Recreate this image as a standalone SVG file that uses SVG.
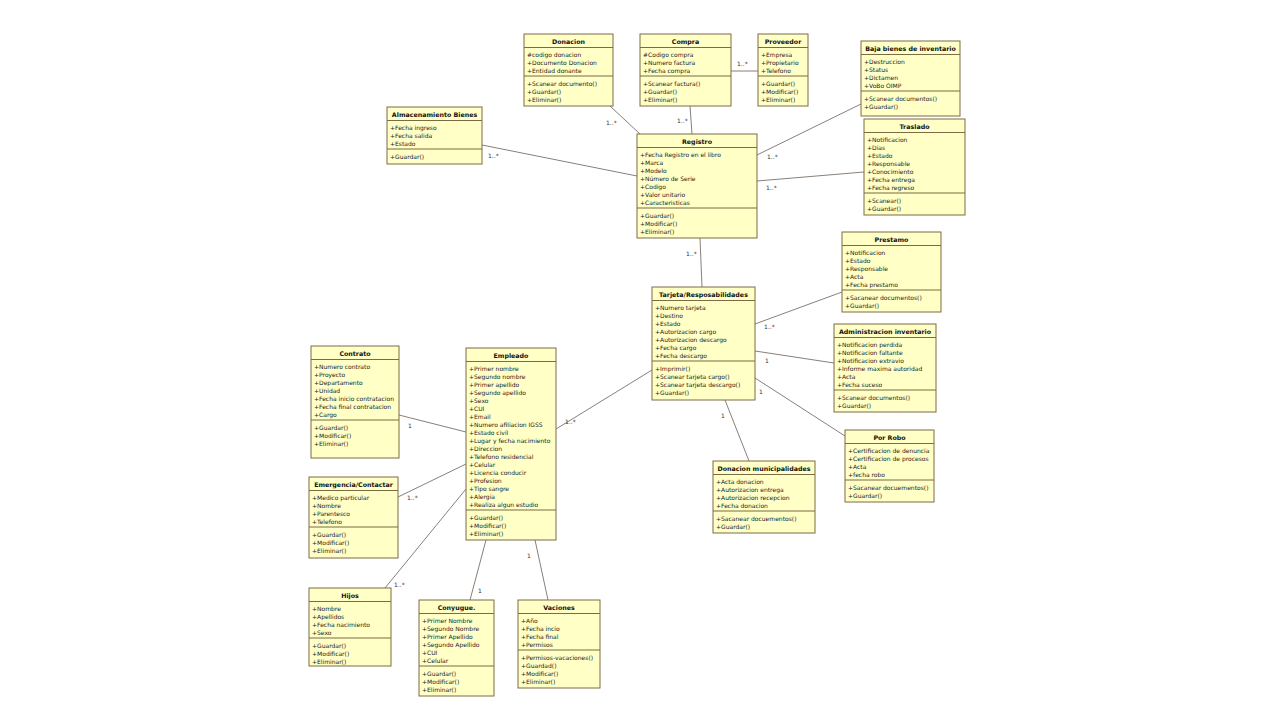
<svg xmlns="http://www.w3.org/2000/svg" width="1280" height="720" viewBox="0 0 1280 720">
<style>
.box{fill:#ffffc6;stroke:#7d6b45;stroke-width:1}
.sep{stroke:#7d6b45;stroke-width:1}
.t{font-family:"DejaVu Sans","Liberation Sans",sans-serif;font-size:6px;fill:#222}
.h{font-family:"DejaVu Sans","Liberation Sans",sans-serif;font-size:6.3px;font-weight:bold;fill:#111;text-anchor:middle}
.c{stroke:#8a7f78;stroke-width:1;fill:none}
.l{font-family:"DejaVu Sans","Liberation Sans",sans-serif;font-size:6px;fill:#333}
</style>
<rect width="1280" height="720" fill="#ffffff"/>
<g id="connectors">
<line class="c" x1="610" y1="106" x2="640" y2="134"/>
<line class="c" x1="690" y1="106" x2="692" y2="134"/>
<line class="c" x1="731" y1="71" x2="758" y2="71"/>
<line class="c" x1="482" y1="145" x2="637" y2="176"/>
<line class="c" x1="757" y1="155" x2="861" y2="104"/>
<line class="c" x1="757" y1="181" x2="864" y2="172"/>
<line class="c" x1="700" y1="238" x2="702" y2="287"/>
<line class="c" x1="755" y1="324" x2="842" y2="292"/>
<line class="c" x1="755" y1="351" x2="834" y2="363"/>
<line class="c" x1="755" y1="378" x2="845" y2="436"/>
<line class="c" x1="725" y1="400" x2="749" y2="461"/>
<line class="c" x1="652" y1="370" x2="556" y2="429"/>
<line class="c" x1="399" y1="415" x2="466" y2="432"/>
<line class="c" x1="398" y1="497" x2="466" y2="464"/>
<line class="c" x1="385" y1="588" x2="466" y2="489"/>
<line class="c" x1="470" y1="600" x2="486" y2="540"/>
<line class="c" x1="548" y1="600" x2="535" y2="540"/>
<text class="l" x="606" y="125">1..*</text>
<text class="l" x="677" y="123">1..*</text>
<text class="l" x="737" y="66">1..*</text>
<text class="l" x="488" y="158">1..*</text>
<text class="l" x="767" y="159">1..*</text>
<text class="l" x="766" y="190">1..*</text>
<text class="l" x="686" y="256">1..*</text>
<text class="l" x="764" y="329">1..*</text>
<text class="l" x="765" y="363">1</text>
<text class="l" x="759" y="394">1</text>
<text class="l" x="721" y="418">1</text>
<text class="l" x="565" y="424">1..*</text>
<text class="l" x="408" y="428">1</text>
<text class="l" x="407" y="500">1..*</text>
<text class="l" x="394" y="587">1..*</text>
<text class="l" x="478" y="593">1</text>
<text class="l" x="527" y="558">1</text>
</g>
<g id="donacion" transform="translate(524,34)">
<rect class="box" width="89" height="72"/>
<text class="h" x="44.5" y="9.5">Donacion</text>
<line class="sep" x1="0" y1="13.5" x2="89" y2="13.5"/>
<text class="t" x="3" y="22.5">#codigo donacion</text>
<text class="t" x="3" y="30.5">+Documento Donacion</text>
<text class="t" x="3" y="38.5">+Entidad donante</text>
<line class="sep" x1="0" y1="42" x2="89" y2="42"/>
<text class="t" x="3" y="51.5">+Scanear documento()</text>
<text class="t" x="3" y="59.5">+Guardar()</text>
<text class="t" x="3" y="67.5">+Eliminar()</text>
</g>
<g id="compra" transform="translate(640,34)">
<rect class="box" width="91" height="72"/>
<text class="h" x="45.5" y="9.5">Compra</text>
<line class="sep" x1="0" y1="13.5" x2="91" y2="13.5"/>
<text class="t" x="3" y="22.5">#Codigo compra</text>
<text class="t" x="3" y="30.5">+Numero factura</text>
<text class="t" x="3" y="38.5">+Fecha compra</text>
<line class="sep" x1="0" y1="42" x2="91" y2="42"/>
<text class="t" x="3" y="51.5">+Scanear factura()</text>
<text class="t" x="3" y="59.5">+Guardar()</text>
<text class="t" x="3" y="67.5">+Eliminar()</text>
</g>
<g id="proveedor" transform="translate(758,34)">
<rect class="box" width="50" height="72"/>
<text class="h" x="25" y="9.5">Proveedor</text>
<line class="sep" x1="0" y1="13.5" x2="50" y2="13.5"/>
<text class="t" x="3" y="22.5">+Empresa</text>
<text class="t" x="3" y="30.5">+Propietario</text>
<text class="t" x="3" y="38.5">+Telefono</text>
<line class="sep" x1="0" y1="42" x2="50" y2="42"/>
<text class="t" x="3" y="51.5">+Guardar()</text>
<text class="t" x="3" y="59.5">+Modificar()</text>
<text class="t" x="3" y="67.5">+Eliminar()</text>
</g>
<g id="baja" transform="translate(861,41)">
<rect class="box" width="99" height="75"/>
<text class="h" x="49.5" y="9.5">Baja bienes de inventario</text>
<line class="sep" x1="0" y1="13.5" x2="99" y2="13.5"/>
<text class="t" x="3" y="22.5">+Destruccion</text>
<text class="t" x="3" y="30.5">+Status</text>
<text class="t" x="3" y="38.5">+Dictamen</text>
<text class="t" x="3" y="46.5">+VoBo OIMP</text>
<line class="sep" x1="0" y1="50" x2="99" y2="50"/>
<text class="t" x="3" y="59.5">+Scanear documentos()</text>
<text class="t" x="3" y="67.5">+Guardar()</text>
</g>
<g id="traslado" transform="translate(864,119)">
<rect class="box" width="101" height="96"/>
<text class="h" x="50.5" y="9.5">Traslado</text>
<line class="sep" x1="0" y1="13.5" x2="101" y2="13.5"/>
<text class="t" x="3" y="22.5">+Notificacion</text>
<text class="t" x="3" y="30.5">+Dias</text>
<text class="t" x="3" y="38.5">+Estado</text>
<text class="t" x="3" y="46.5">+Responsable</text>
<text class="t" x="3" y="54.5">+Conocimiento</text>
<text class="t" x="3" y="62.5">+Fecha entrega</text>
<text class="t" x="3" y="70.5">+Fecha regreso</text>
<line class="sep" x1="0" y1="74" x2="101" y2="74"/>
<text class="t" x="3" y="83.5">+Scanear()</text>
<text class="t" x="3" y="91.5">+Guardar()</text>
</g>
<g id="almacenamiento" transform="translate(387,107)">
<rect class="box" width="95" height="57"/>
<text class="h" x="47.5" y="9.5">Almacenamiento Bienes</text>
<line class="sep" x1="0" y1="13.5" x2="95" y2="13.5"/>
<text class="t" x="3" y="22.5">+Fecha ingreso</text>
<text class="t" x="3" y="30.5">+Fecha salida</text>
<text class="t" x="3" y="38.5">+Estado</text>
<line class="sep" x1="0" y1="42" x2="95" y2="42"/>
<text class="t" x="3" y="51.5">+Guardar()</text>
</g>
<g id="registro" transform="translate(637,134)">
<rect class="box" width="120" height="104"/>
<text class="h" x="60" y="9.5">Registro</text>
<line class="sep" x1="0" y1="13.5" x2="120" y2="13.5"/>
<text class="t" x="3" y="22.5">+Fecha Registro en el libro</text>
<text class="t" x="3" y="30.5">+Marca</text>
<text class="t" x="3" y="38.5">+Modelo</text>
<text class="t" x="3" y="46.5">+Número de Serie</text>
<text class="t" x="3" y="54.5">+Codigo</text>
<text class="t" x="3" y="62.5">+Valor unitario</text>
<text class="t" x="3" y="70.5">+Caracteristicas</text>
<line class="sep" x1="0" y1="74" x2="120" y2="74"/>
<text class="t" x="3" y="83.5">+Guardar()</text>
<text class="t" x="3" y="91.5">+Modificar()</text>
<text class="t" x="3" y="99.5">+Eliminar()</text>
</g>
<g id="prestamo" transform="translate(842,232)">
<rect class="box" width="99" height="80"/>
<text class="h" x="49.5" y="9.5">Prestamo</text>
<line class="sep" x1="0" y1="13.5" x2="99" y2="13.5"/>
<text class="t" x="3" y="22.5">+Notificacion</text>
<text class="t" x="3" y="30.5">+Estado</text>
<text class="t" x="3" y="38.5">+Responsable</text>
<text class="t" x="3" y="46.5">+Acta</text>
<text class="t" x="3" y="54.5">+Fecha prestamo</text>
<line class="sep" x1="0" y1="58" x2="99" y2="58"/>
<text class="t" x="3" y="67.5">+Sacanear documentos()</text>
<text class="t" x="3" y="75.5">+Guardar()</text>
</g>
<g id="administracion" transform="translate(834,324)">
<rect class="box" width="102" height="88"/>
<text class="h" x="51" y="9.5">Administracion inventario</text>
<line class="sep" x1="0" y1="13.5" x2="102" y2="13.5"/>
<text class="t" x="3" y="22.5">+Notificacion perdida</text>
<text class="t" x="3" y="30.5">+Notificacion faltante</text>
<text class="t" x="3" y="38.5">+Notificacion extravio</text>
<text class="t" x="3" y="46.5">+Informe maxima autoridad</text>
<text class="t" x="3" y="54.5">+Acta</text>
<text class="t" x="3" y="62.5">+Fecha suceso</text>
<line class="sep" x1="0" y1="66" x2="102" y2="66"/>
<text class="t" x="3" y="75.5">+Scanear documentos()</text>
<text class="t" x="3" y="83.5">+Guardar()</text>
</g>
<g id="tarjeta" transform="translate(652,287)">
<rect class="box" width="103" height="113"/>
<text class="h" x="51.5" y="9.5">Tarjeta/Resposabilidades</text>
<line class="sep" x1="0" y1="13.5" x2="103" y2="13.5"/>
<text class="t" x="3" y="22.5">+Numero tarjeta</text>
<text class="t" x="3" y="30.5">+Destino</text>
<text class="t" x="3" y="38.5">+Estado</text>
<text class="t" x="3" y="46.5">+Autorizacion cargo</text>
<text class="t" x="3" y="54.5">+Autorizacion descargo</text>
<text class="t" x="3" y="62.5">+Fecha cargo</text>
<text class="t" x="3" y="70.5">+Fecha descargo</text>
<line class="sep" x1="0" y1="74" x2="103" y2="74"/>
<text class="t" x="3" y="83.5">+Imprimir()</text>
<text class="t" x="3" y="91.5">+Scanear tarjeta cargo()</text>
<text class="t" x="3" y="99.5">+Scanear tarjeta descargo()</text>
<text class="t" x="3" y="107.5">+Guardar()</text>
</g>
<g id="porrobo" transform="translate(845,430)">
<rect class="box" width="89" height="72"/>
<text class="h" x="44.5" y="9.5">Por Robo</text>
<line class="sep" x1="0" y1="13.5" x2="89" y2="13.5"/>
<text class="t" x="3" y="22.5">+Certificacion de denuncia</text>
<text class="t" x="3" y="30.5">+Certificacion de procesos</text>
<text class="t" x="3" y="38.5">+Acta</text>
<text class="t" x="3" y="46.5">+fecha robo</text>
<line class="sep" x1="0" y1="50" x2="89" y2="50"/>
<text class="t" x="3" y="59.5">+Sacanear docuementos()</text>
<text class="t" x="3" y="67.5">+Guardar()</text>
</g>
<g id="donacionmunicipalidades" transform="translate(713,461)">
<rect class="box" width="102" height="72"/>
<text class="h" x="51" y="9.5">Donacion municipalidades</text>
<line class="sep" x1="0" y1="13.5" x2="102" y2="13.5"/>
<text class="t" x="3" y="22.5">+Acta donacion</text>
<text class="t" x="3" y="30.5">+Autorizacion entrega</text>
<text class="t" x="3" y="38.5">+Autorizacion recepcion</text>
<text class="t" x="3" y="46.5">+Fecha donacion</text>
<line class="sep" x1="0" y1="50" x2="102" y2="50"/>
<text class="t" x="3" y="59.5">+Sacanear docuementos()</text>
<text class="t" x="3" y="67.5">+Guardar()</text>
</g>
<g id="contrato" transform="translate(311,346)">
<rect class="box" width="88" height="112"/>
<text class="h" x="44" y="9.5">Contrato</text>
<line class="sep" x1="0" y1="13.5" x2="88" y2="13.5"/>
<text class="t" x="3" y="22.5">+Numero contrato</text>
<text class="t" x="3" y="30.5">+Proyecto</text>
<text class="t" x="3" y="38.5">+Departamento</text>
<text class="t" x="3" y="46.5">+Unidad</text>
<text class="t" x="3" y="54.5">+Fecha inicio contratacion</text>
<text class="t" x="3" y="62.5">+Fecha final contratacion</text>
<text class="t" x="3" y="70.5">+Cargo</text>
<line class="sep" x1="0" y1="74" x2="88" y2="74"/>
<text class="t" x="3" y="83.5">+Guardar()</text>
<text class="t" x="3" y="91.5">+Modificar()</text>
<text class="t" x="3" y="99.5">+Eliminar()</text>
</g>
<g id="emergencia" transform="translate(309,477)">
<rect class="box" width="89" height="81"/>
<text class="h" x="44.5" y="9.5">Emergencia/Contactar</text>
<line class="sep" x1="0" y1="13.5" x2="89" y2="13.5"/>
<text class="t" x="3" y="22.5">+Medico particular</text>
<text class="t" x="3" y="30.5">+Nombre</text>
<text class="t" x="3" y="38.5">+Parentesco</text>
<text class="t" x="3" y="46.5">+Telefono</text>
<line class="sep" x1="0" y1="50" x2="89" y2="50"/>
<text class="t" x="3" y="59.5">+Guardar()</text>
<text class="t" x="3" y="67.5">+Modificar()</text>
<text class="t" x="3" y="75.5">+Eliminar()</text>
</g>
<g id="empleado" transform="translate(466,348)">
<rect class="box" width="90" height="192"/>
<text class="h" x="45" y="9.5">Empleado</text>
<line class="sep" x1="0" y1="13.5" x2="90" y2="13.5"/>
<text class="t" x="3" y="22.5">+Primer nombre</text>
<text class="t" x="3" y="30.5">+Segundo nombre</text>
<text class="t" x="3" y="38.5">+Primer apellido</text>
<text class="t" x="3" y="46.5">+Segundo apellido</text>
<text class="t" x="3" y="54.5">+Sexo</text>
<text class="t" x="3" y="62.5">+CUI</text>
<text class="t" x="3" y="70.5">+Email</text>
<text class="t" x="3" y="78.5">+Numero afiliacion IGSS</text>
<text class="t" x="3" y="86.5">+Estado civil</text>
<text class="t" x="3" y="94.5">+Lugar y fecha nacimiento</text>
<text class="t" x="3" y="102.5">+Direccion</text>
<text class="t" x="3" y="110.5">+Telefono residencial</text>
<text class="t" x="3" y="118.5">+Celular</text>
<text class="t" x="3" y="126.5">+Licencia conducir</text>
<text class="t" x="3" y="134.5">+Profesion</text>
<text class="t" x="3" y="142.5">+Tipo sangre</text>
<text class="t" x="3" y="150.5">+Alergia</text>
<text class="t" x="3" y="158.5">+Realiza algun estudio</text>
<line class="sep" x1="0" y1="162" x2="90" y2="162"/>
<text class="t" x="3" y="171.5">+Guardar()</text>
<text class="t" x="3" y="179.5">+Modificar()</text>
<text class="t" x="3" y="187.5">+Eliminar()</text>
</g>
<g id="hijos" transform="translate(309,588)">
<rect class="box" width="82" height="78"/>
<text class="h" x="41" y="9.5">Hijos</text>
<line class="sep" x1="0" y1="13.5" x2="82" y2="13.5"/>
<text class="t" x="3" y="22.5">+Nombre</text>
<text class="t" x="3" y="30.5">+Apellidos</text>
<text class="t" x="3" y="38.5">+Fecha nacimiento</text>
<text class="t" x="3" y="46.5">+Sexo</text>
<line class="sep" x1="0" y1="50" x2="82" y2="50"/>
<text class="t" x="3" y="59.5">+Guardar()</text>
<text class="t" x="3" y="67.5">+Modificar()</text>
<text class="t" x="3" y="75.5">+Eliminar()</text>
</g>
<g id="conyugue" transform="translate(419,600)">
<rect class="box" width="75" height="96"/>
<text class="h" x="37.5" y="9.5">Conyugue.</text>
<line class="sep" x1="0" y1="13.5" x2="75" y2="13.5"/>
<text class="t" x="3" y="22.5">+Primer Nombre</text>
<text class="t" x="3" y="30.5">+Segundo Nombre</text>
<text class="t" x="3" y="38.5">+Primer Apellido</text>
<text class="t" x="3" y="46.5">+Segundo Apellido</text>
<text class="t" x="3" y="54.5">+CUI</text>
<text class="t" x="3" y="62.5">+Celular</text>
<line class="sep" x1="0" y1="66" x2="75" y2="66"/>
<text class="t" x="3" y="75.5">+Guardar()</text>
<text class="t" x="3" y="83.5">+Modificar()</text>
<text class="t" x="3" y="91.5">+Eliminar()</text>
</g>
<g id="vaciones" transform="translate(518,600)">
<rect class="box" width="82" height="88"/>
<text class="h" x="41" y="9.5">Vaciones</text>
<line class="sep" x1="0" y1="13.5" x2="82" y2="13.5"/>
<text class="t" x="3" y="22.5">+Año</text>
<text class="t" x="3" y="30.5">+Fecha incio</text>
<text class="t" x="3" y="38.5">+Fecha final</text>
<text class="t" x="3" y="46.5">+Permisos</text>
<line class="sep" x1="0" y1="50" x2="82" y2="50"/>
<text class="t" x="3" y="59.5">+Permisos-vacaciones()</text>
<text class="t" x="3" y="67.5">+Guardad()</text>
<text class="t" x="3" y="75.5">+Modificar()</text>
<text class="t" x="3" y="83.5">+Eliminar()</text>
</g>
</svg>
